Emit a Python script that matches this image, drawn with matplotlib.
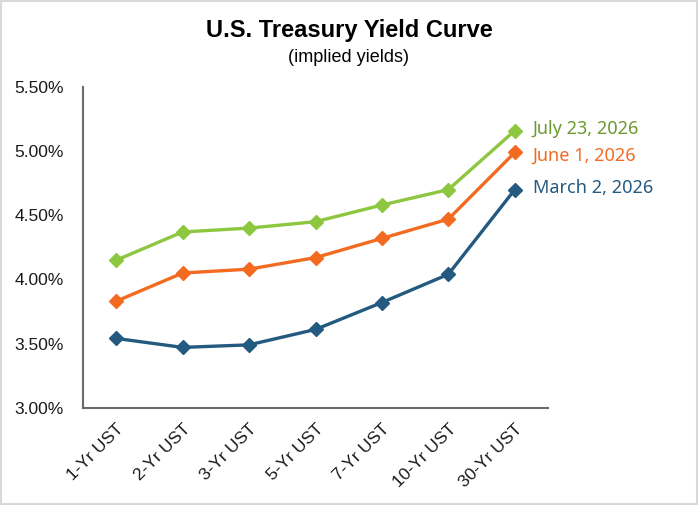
import matplotlib.pyplot as plt
from matplotlib.ticker import FuncFormatter, MultipleLocator
from matplotlib.patches import Rectangle

maturities = ["1-Yr UST", "2-Yr UST", "3-Yr UST", "5-Yr UST", "7-Yr UST", "10-Yr UST", "30-Yr UST"]
july_23 = [4.15, 4.37, 4.40, 4.45, 4.58, 4.70, 5.16]
june_1 = [3.83, 4.05, 4.08, 4.17, 4.32, 4.47, 4.99]
march_2 = [3.54, 3.47, 3.49, 3.61, 3.82, 4.04, 4.70]

series = [
    ("July 23, 2026", july_23, "#8DC63F", "#6B9A2E", 1.5),
    ("June 1, 2026", june_1, "#F26B21", "#F26B21", -2.5),
    ("March 2, 2026", march_2, "#245A80", "#245A80", 1.5),
]

fig = plt.figure(figsize=(6.98, 5.05), dpi=100)
ax = fig.add_axes([83 / 698, (505 - 407.7) / 505, 465 / 698, (407.7 - 87) / 505])

x = list(range(len(maturities)))
for name, vals, color, text_color, dy in series:
    ax.plot(x, vals, color=color, lw=2.4, marker="D", markersize=7, zorder=3)
    ax.annotate(name, xy=(x[-1], vals[-1]), xytext=(13, dy), textcoords="offset points",
                va="center", ha="left", color=text_color, fontsize=13,
                family=["Noto Sans", "DejaVu Sans"], annotation_clip=False)

ax.set_xlim(-0.5, len(maturities) - 0.5)
ax.set_ylim(3.0, 5.5)
ax.yaxis.set_major_locator(MultipleLocator(0.5))
ax.yaxis.set_major_formatter(FuncFormatter(lambda v, p: f"{v:.2f}%"))
ax.set_xticks(x)
ax.set_xticklabels(maturities, rotation=45, ha="right", rotation_mode="anchor")

for lab in ax.get_xticklabels() + ax.get_yticklabels():
    lab.set_family(["Liberation Sans", "DejaVu Sans"])
    lab.set_fontsize(12.5)
    lab.set_color("#1a1a1a")
ax.tick_params(axis="both", length=0)
ax.tick_params(axis="y", pad=14)
ax.tick_params(axis="x", pad=10)

for side in ["top", "right"]:
    ax.spines[side].set_visible(False)
for side in ["left", "bottom"]:
    ax.spines[side].set_color("#6b6b6b")
    ax.spines[side].set_linewidth(1.5)

fig.text(0.5, 1 - 31 / 505, "U.S. Treasury Yield Curve", ha="center", va="center",
         fontsize=17, fontweight="bold", family=["Liberation Sans", "DejaVu Sans"])
fig.text(0.5, 1 - 57 / 505, "(implied yields)", ha="center", va="center",
         fontsize=13, family=["Liberation Sans", "DejaVu Sans"])

fig.patches.append(Rectangle((0.001, 0.001), 0.997, 0.997, transform=fig.transFigure,
                             fill=False, edgecolor="#d9d9d9", lw=1.5))

fig.savefig("out.png", dpi=100)
